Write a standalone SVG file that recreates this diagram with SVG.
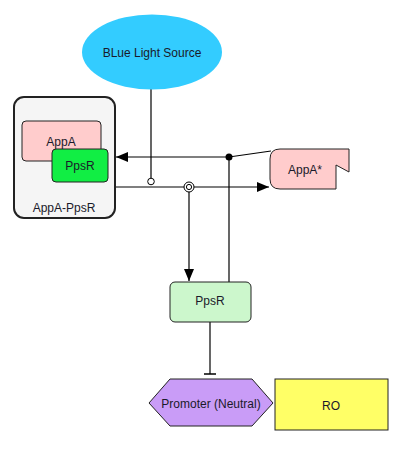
<svg xmlns="http://www.w3.org/2000/svg" width="404" height="452" viewBox="0 0 404 452">
<defs>
<style>
text{font-family:"Liberation Sans",Arial,sans-serif;font-size:12px;fill:#1a1a2a;text-anchor:middle;dominant-baseline:central}
.ln{stroke:#000;stroke-width:1.2;fill:none}
.nd{stroke:#222;stroke-width:1}
</style>
<marker id="arr" viewBox="0 0 12 10" refX="12" refY="5" markerWidth="12" markerHeight="10" markerUnits="userSpaceOnUse" orient="auto">
<path d="M0,0 L12,5 L0,10 z" fill="#000"/>
</marker>
</defs>
<rect width="404" height="452" fill="#fff"/>
<g id="connectors">
<line class="ln" x1="151" y1="89" x2="151" y2="178"/>
<circle cx="151" cy="181.5" r="3.3" fill="#fff" stroke="#000" stroke-width="1"/>
<line class="ln" x1="229" y1="157" x2="116" y2="157" marker-end="url(#arr)"/>
<line class="ln" x1="229" y1="157" x2="271" y2="151"/>
<circle cx="229" cy="157" r="3.5" fill="#000"/>
<line class="ln" x1="229" y1="157" x2="229" y2="282"/>
<line class="ln" x1="116" y1="187" x2="269" y2="187" marker-end="url(#arr)"/>
<line class="ln" x1="189" y1="192" x2="189" y2="281" marker-end="url(#arr)"/>
<circle cx="189" cy="187" r="5" fill="#fff" stroke="#000" stroke-width="1"/>
<circle cx="189" cy="187" r="2.6" fill="#fff" stroke="#000" stroke-width="1"/>
<line class="ln" x1="210" y1="322" x2="210" y2="374"/>
<line x1="204" y1="374" x2="216" y2="374" stroke="#000" stroke-width="1.5"/>
</g>
<g id="blue-light-source">
<ellipse cx="152" cy="52" rx="70" ry="37.5" fill="#33ccff"/>
<text x="152" y="53">BLue Light Source</text>
</g>
<g id="appa-ppsr">
<rect x="14" y="97" width="101" height="121" rx="10" fill="#f5f5f5" stroke="#222" stroke-width="2"/>
<text x="64" y="208">AppA-PpsR</text>
</g>
<g id="appa">
<rect x="22" y="121" width="79" height="40" rx="4" fill="#ffcccc" class="nd"/>
<text x="61" y="142">AppA</text>
</g>
<g id="ppsr-inner">
<rect x="52" y="149" width="56" height="33" rx="4" fill="#11ee44" class="nd"/>
<text x="80" y="166">PpsR</text>
</g>
<g id="appa-star">
<path d="M280,149 L349,149 L349,172 L336,165 L336,189 L280,189 Q270,189 270,179 L270,159 Q270,149 280,149 z" fill="#ffcccc" class="nd"/>
<text x="305" y="170">AppA*</text>
</g>
<g id="ppsr">
<rect x="170" y="282" width="81" height="40" rx="5" fill="#ccf7cc" class="nd"/>
<text x="210" y="301">PpsR</text>
</g>
<g id="promoter">
<polygon points="149,403 170,379 252,379 273,403 252,426 170,426" fill="#c99cf7" class="nd"/>
<text x="211" y="404">Promoter (Neutral)</text>
</g>
<g id="ro">
<rect x="275" y="379" width="113" height="51" fill="#ffff66" class="nd"/>
<text x="331" y="406">RO</text>
</g>
</svg>
